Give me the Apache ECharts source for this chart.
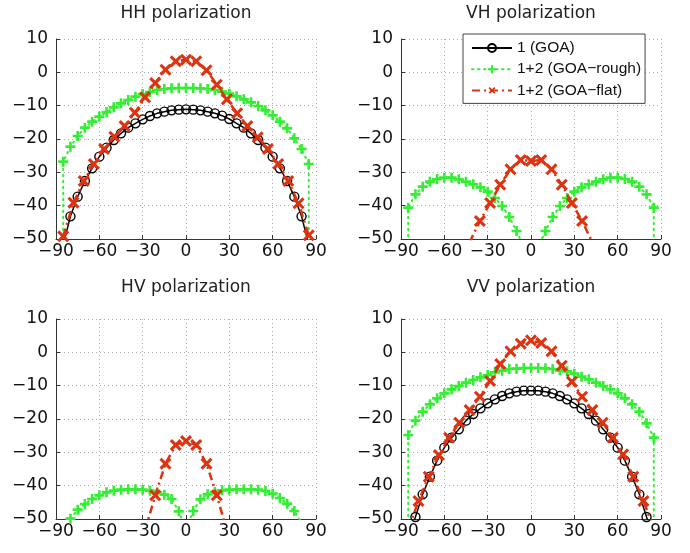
<!DOCTYPE html>
<html><head><meta charset="utf-8">
<script src="https://cdn.jsdelivr.net/npm/echarts@6/dist/echarts.min.js"></script>
<style>html,body{margin:0;padding:0;background:#fff}#c{width:690px;height:553px}</style>
</head><body><div id="c"></div>
<script>
const panelTitles = ['HH polarization', 'VH polarization', 'HV polarization', 'VV polarization'];
const seriesNames = ['1 (GOA)', '1+2 (GOA\u2212rough)', '1+2 (GOA\u2212flat)'];
const xTicks = [-90, -60, -30, 0, 30, 60, 90];
const yTicks = [-50, -40, -30, -20, -10, 0, 10];

// incidence angles of the markers
const goaAngles = [-80,-75,-70,-65,-60,-55,-50,-45,-40,-35,-30,-25,-20,-15,-10,-5,0,5,10,15,20,25,30,35,40,45,50,55,60,65,70,75,80];
const roughAngles = [-85,-80,-75,-70,-65,-60,-55,-50,-45,-40,-35,-30,-25,-20,-15,-10,-5,0,5,10,15,20,25,30,35,40,45,50,55,60,65,70,75,80,85];
const flatAngles = [-85,-77.9,-70.8,-63.8,-56.7,-49.6,-42.5,-35.4,-28.3,-21.3,-14.2,-7.1,0,7.1,14.2,21.3,28.3,35.4,42.5,49.6,56.7,63.8,70.8,77.9,85];

// HH
const hhGoa = [-43.2,-37.3,-32.6,-28.8,-25.3,-22.6,-20.3,-18.3,-16.6,-15.3,-14.1,-13.1,-12.3,-11.8,-11.4,-11.2,-11.1,-11.2,-11.4,-11.8,-12.3,-13.0,-14.0,-15.3,-16.6,-18.3,-20.3,-22.6,-25.3,-28.8,-32.6,-37.3,-43.2];
const hhGoaTails = [[-85, -51.7], [85, -51.7]];
const hhRough = [-26.8,-22.3,-19.1,-16.6,-14.8,-13.3,-11.9,-10.5,-9.3,-8.3,-7.3,-6.5,-5.9,-5.3,-5.0,-4.8,-4.7,-4.7,-4.7,-4.8,-5.0,-5.3,-5.8,-6.4,-7.2,-8.1,-9.0,-10.1,-11.4,-12.9,-14.8,-16.8,-19.8,-23.0,-27.5];
const hhRoughTails = [[-85, -60], [85, -60]];
const hhFlat = [-49.2,-39.1,-32.6,-27.5,-23.0,-19.3,-16.1,-12.1,-7.5,-3.2,0.8,3.3,3.8,3.3,0.6,-3.7,-8.1,-12.3,-16.1,-19.5,-23.0,-27.5,-32.6,-39.3,-48.9];

// VH
const vhRoughLeftAngles = [-85,-80,-75,-70,-65,-60,-55,-50,-45,-40,-35,-30,-25,-20,-15,-10];
const vhRoughLeft = [-40.6,-36.6,-34.3,-32.8,-32.0,-31.6,-31.6,-32.1,-32.8,-33.6,-34.5,-35.8,-37.7,-40.1,-43.4,-47.6];
const vhRoughRightAngles = [10,15,20,25,30,35,40,45,50,55,60,65,70,75,80,85];
const vhRoughRight = [-47.6,-43.4,-40.1,-37.7,-35.8,-34.5,-33.6,-32.8,-32.1,-31.6,-31.6,-32.0,-32.8,-34.3,-36.6,-40.6];
const vhRoughTails = [[-85, -60], [-5, -52.5], [5, -52.5], [85, -60]];
const vhFlatAngles = [-35.4,-28.3,-21.3,-14.2,-7.1,0,7.1,14.2,21.3,28.3,35.4];
const vhFlat = [-44.6,-39.2,-33.7,-29.1,-26.3,-26.6,-26.3,-29.1,-33.7,-39.2,-44.6];
const vhFlatTails = [[-42.5, -51], [42.5, -51]];

// HV
const hvRoughLeftAngles = [-80,-75,-70,-65,-60,-55,-50,-45,-40,-35,-30,-25,-20,-15,-10,-5];
const hvRoughLeft = [-49.9,-47.2,-45.5,-44.0,-42.9,-42.0,-41.5,-41.2,-41.1,-41.1,-41.2,-41.5,-42.0,-42.7,-44.0,-47.7];
const hvRoughRightAngles = [5,10,15,20,25,30,35,40,45,50,55,60,65,70,75];
const hvRoughRight = [-47.6,-44.1,-42.6,-41.9,-41.4,-41.2,-41.1,-41.1,-41.1,-41.2,-41.6,-42.4,-43.7,-45.4,-47.6];
const hvRoughTails = [[-2, -51], [2, -51], [80, -51]];
const hvFlatAngles = [-21.3,-14.2,-7.1,0,7.1,14.2,21.3];
const hvFlat = [-42.9,-33.4,-27.8,-26.6,-27.8,-33.4,-42.9];
const hvFlatTails = [[-28.3, -53.5], [28.3, -53.5]];

// VV
const vvGoa = [-49.4,-42.6,-37.3,-32.5,-28.6,-25.6,-23.1,-20.5,-18.5,-16.8,-15.3,-14.1,-13.1,-12.3,-11.8,-11.5,-11.5,-11.5,-11.8,-12.3,-13.1,-14.1,-15.3,-16.8,-18.5,-20.5,-23.1,-25.6,-28.6,-32.5,-37.3,-42.6,-49.4];
const vvGoaTails = [[-82, -52], [82, -52]];
const vvRough = [-24.8,-20.5,-17.8,-15.6,-13.8,-12.3,-11.1,-10.1,-9.1,-8.3,-7.5,-6.8,-6.0,-5.5,-5.0,-4.9,-4.7,-4.7,-4.7,-4.8,-5.0,-5.4,-5.7,-6.4,-7.3,-8.1,-9.1,-10.1,-11.1,-12.3,-13.8,-15.6,-17.8,-21.3,-25.6];
const vvRoughTails = [[-85, -60], [85, -60]];
const vvFlatAngles = [-77.9,-70.8,-63.8,-56.7,-49.6,-42.5,-35.4,-28.3,-21.3,-14.2,-7.1,0,7.1,14.2,21.3,28.3,35.4,42.5,49.6,56.7,63.8,70.8,77.9];
const vvFlat = [-44.6,-37.3,-30.8,-25.6,-21.1,-17.3,-13.3,-8.6,-3.5,0.3,2.6,3.6,2.8,0.3,-4.0,-8.8,-13.3,-17.3,-21.1,-25.6,-30.6,-37.3,-44.6];
const vvFlatTails = [[-85, -53], [85, -53]];

// ---------- build ----------
const FONT = 'DejaVu Sans';
const LFONT = 'Liberation Sans';
const pts = (xs, ys) => xs.map((x, i) => ({ value: [x, ys[i]] }));
const tail = t => ({ value: [t[0], t[1]], symbol: 'none' });
const minus = v => String(v).replace('-', '\u2212');

const plusPath = 'path://M3.7,0H6.3V3.7H10V6.3H6.3V10H3.7V6.3H0V3.7H3.7Z';
const xPath = 'path://M3.9,0H6.1V3.9H10V6.1H6.1V10H3.9V6.1H0V3.9H3.9Z';
const GREEN = '#33ee33', RED = '#dd3311';

const styles = [
  { symbol: 'circle', symbolSize: 9,
    itemStyle: { color: 'rgba(255,255,255,0)', borderColor: '#000', borderWidth: 1.4 },
    lineStyle: { color: '#000', width: 1.5 } },
  { symbol: plusPath, symbolSize: 10,
    itemStyle: { color: GREEN },
    lineStyle: { color: GREEN, width: 2, type: [1.5, 4.5], cap: 'round' } },
  { symbol: xPath, symbolSize: 14, symbolRotate: 45,
    itemStyle: { color: RED },
    lineStyle: { color: RED, width: 2.5, type: [8, 4, 2, 4] } }
];

const panels = [
  [ [tail(hhGoaTails[0]), ...pts(goaAngles, hhGoa), tail(hhGoaTails[1])],
    [tail(hhRoughTails[0]), ...pts(roughAngles, hhRough), tail(hhRoughTails[1])],
    pts(flatAngles, hhFlat) ],
  [ null,
    [tail(vhRoughTails[0]), ...pts(vhRoughLeftAngles, vhRoughLeft), tail(vhRoughTails[1]), tail(vhRoughTails[2]), ...pts(vhRoughRightAngles, vhRoughRight), tail(vhRoughTails[3])],
    [tail(vhFlatTails[0]), ...pts(vhFlatAngles, vhFlat), tail(vhFlatTails[1])] ],
  [ null,
    [...pts(hvRoughLeftAngles, hvRoughLeft), tail(hvRoughTails[0]), tail(hvRoughTails[1]), ...pts(hvRoughRightAngles, hvRoughRight), tail(hvRoughTails[2])],
    [tail(hvFlatTails[0]), ...pts(hvFlatAngles, hvFlat), tail(hvFlatTails[1])] ],
  [ [tail(vvGoaTails[0]), ...pts(goaAngles, vvGoa), tail(vvGoaTails[1])],
    [tail(vvRoughTails[0]), ...pts(roughAngles, vvRough), tail(vvRoughTails[1])],
    [tail(vvFlatTails[0]), ...pts(vvFlatAngles, vvFlat), tail(vvFlatTails[1])] ]
];

const gridPos = [[56, 39], [401, 39], [56, 319], [401, 319]];
const GW = 260, GH = 200;

const grid = gridPos.map(p => ({ left: p[0], top: p[1], width: GW, height: GH, containLabel: false }));
const axisCommon = {
  axisLine: { show: true, onZero: false, lineStyle: { color: '#333', width: 1 } },
  axisTick: { show: true, inside: true, length: 4, lineStyle: { color: '#333' } },
  splitLine: { show: true, lineStyle: { color: '#aaa', type: [1, 3], width: 1 } },
  axisLabel: { color: '#111', fontFamily: FONT, fontSize: 17, formatter: minus }
};
const xAxis = gridPos.map((p, i) => Object.assign({
  type: 'value', gridIndex: i, min: xTicks[0], max: xTicks[xTicks.length - 1],
  interval: xTicks[1] - xTicks[0] }, JSON.parse(JSON.stringify(axisCommon)),
  { axisLabel: Object.assign({}, axisCommon.axisLabel, { margin: 4 }) }));
const yAxis = gridPos.map((p, i) => Object.assign({
  type: 'value', gridIndex: i, min: yTicks[0], max: yTicks[yTicks.length - 1],
  interval: yTicks[1] - yTicks[0] }, JSON.parse(JSON.stringify(axisCommon)),
  { axisLabel: Object.assign({}, axisCommon.axisLabel, { margin: 8 }) }));

const series = [];
panels.forEach((sets, i) => {
  sets.forEach((data, k) => {
    if (!data) return;
    series.push(Object.assign({
      type: 'line', name: seriesNames[k], xAxisIndex: i, yAxisIndex: i,
      data: data, showSymbol: true, showAllSymbol: true, clip: true,
      animation: false, z: 2 + k
    }, styles[k]));
  });
});

const title = panelTitles.map((t, i) => ({
  text: t, left: gridPos[i][0] + GW / 2, top: i < 2 ? 5 : 279, textAlign: 'center', padding: 0,
  textStyle: { fontFamily: FONT, fontSize: 17, fontWeight: 'normal', color: '#222' }
}));

const chart = echarts.init(document.getElementById('c'), null, { renderer: 'canvas' });
chart.setOption({
  animation: false,
  backgroundColor: '#fff',
  title: title,
  grid: grid, xAxis: xAxis, yAxis: yAxis, series: series,
  legend: {
    data: seriesNames, orient: 'vertical', left: 463, top: 34,
    itemWidth: 40, itemHeight: 10, itemGap: 5.2,
    padding: [6, 4, 5, 8],
    backgroundColor: '#fff', borderColor: '#444', borderWidth: 1,
    textStyle: { fontFamily: LFONT, fontSize: 15.5, color: '#111' },
    selectedMode: false
  }
});
</script></body></html>
